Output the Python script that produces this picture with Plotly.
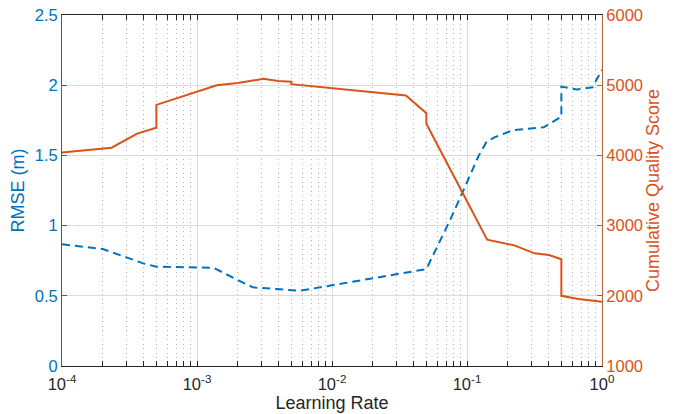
import plotly.graph_objects as go

# Learning-rate sweep results
lr_rmse = [1e-4, 2e-4, 3e-4, 4e-4, 5e-4, 1e-3, 1.32e-3, 2e-3, 2.6e-3, 3.9e-3, 5.8e-3,
           0.05, 0.063, 0.075, 0.094, 0.121, 0.14, 0.161, 0.22, 0.3, 0.37, 0.5, 0.5,
           0.65, 0.85, 1.0]
rmse = [0.867, 0.833, 0.774, 0.731, 0.707, 0.703, 0.70, 0.613, 0.56, 0.548, 0.536,
        0.69, 0.89, 1.04, 1.25, 1.49, 1.60, 1.63, 1.68, 1.69, 1.70, 1.776, 1.99,
        1.97, 1.985, 2.11]

lr_quality = [1e-4, 2.33e-4, 3.6e-4, 5e-4, 5e-4, 1.4e-3, 2e-3, 3.1e-3, 4e-3, 5e-3, 5e-3,
              0.0353, 0.05, 0.05, 0.141, 0.227, 0.316, 0.405, 0.5, 0.5, 0.67, 1.0]
quality = [4040, 4110, 4310, 4395, 4720, 5000, 5030, 5090, 5060, 5050, 5015,
           4855, 4600, 4450, 2800, 2715, 2605, 2580, 2520, 2000, 1955, 1915]

x_tickvals = [1e-4, 1e-3, 1e-2, 1e-1, 1]
x_ticktext = ["10<sup>-4</sup>", "10<sup>-3</sup>", "10<sup>-2</sup>", "10<sup>-1</sup>", "10<sup>0</sup>"]

BLUE = "#0072BD"
ORANGE = "#D95319"
DARK = "#262626"
GRID = "#DCDCDC"
FONT = "Liberation Sans, Arial, Helvetica, sans-serif"

minor_vals = [m * 10 ** e for e in range(-4, 0) for m in range(2, 10)]

fig = go.Figure()
fig.add_trace(go.Scatter(
    x=lr_rmse, y=rmse, mode="lines",
    line=dict(color=BLUE, width=2, dash="8px,5px"),
    yaxis="y", showlegend=False,
))
fig.add_trace(go.Scatter(
    x=lr_quality, y=quality, mode="lines",
    line=dict(color=ORANGE, width=2),
    yaxis="y2", showlegend=False,
))

fig.update_layout(
    width=677, height=414,
    margin=dict(l=62, r=75, t=15, b=48),
    paper_bgcolor="white", plot_bgcolor="white",
    font=dict(family=FONT, size=16, color=DARK),
    xaxis=dict(
        type="log", range=[-4, 0], automargin=False,
        tickvals=x_tickvals, ticktext=x_ticktext,
        ticks="inside", ticklen=5, tickcolor=DARK,
        showline=True, linecolor=DARK, linewidth=1, mirror="allticks",
        showgrid=True, gridcolor=GRID, gridwidth=1,
        zeroline=False,
        tickfont=dict(size=16.5, color=DARK),
        ticklabelstandoff=3,
        title=dict(text="Learning Rate", font=dict(size=18, color=DARK), standoff=1),
        minor=dict(tickvals=minor_vals, ticks="inside", ticklen=3, tickcolor=DARK,
                   showgrid=True, gridcolor="#B4B4B4", griddash="1px,3.5px", gridwidth=1),
    ),
    yaxis=dict(
        range=[0, 2.5], dtick=0.5, automargin=False,
        ticks="inside", ticklen=5, tickcolor=BLUE,
        showline=True, linecolor=BLUE, linewidth=1,
        showgrid=True, gridcolor=GRID, gridwidth=1, zeroline=False,
        tickfont=dict(size=16.5, color=BLUE),
        title=dict(text="RMSE (m)", font=dict(size=18, color=BLUE), standoff=5),
    ),
    yaxis2=dict(
        range=[1000, 6000], dtick=1000, automargin=False,
        overlaying="y", side="right",
        ticks="inside", ticklen=5, tickcolor=ORANGE,
        showline=True, linecolor="#B8623F", linewidth=1,
        showgrid=False, zeroline=False,
        tickfont=dict(size=16.5, color=ORANGE),
        title=dict(text="Cumulative Quality Score", font=dict(size=18, color=ORANGE), standoff=3),
    ),
)

fig.write_html("out.html")
